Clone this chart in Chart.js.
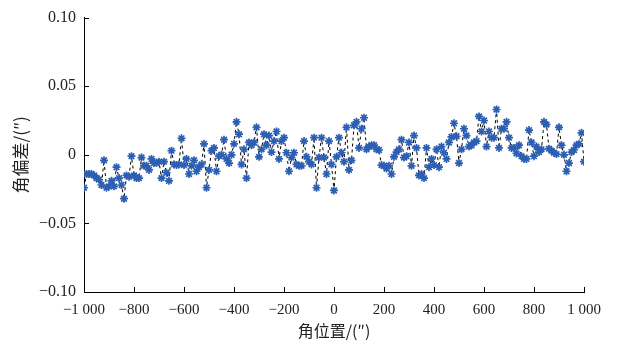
<!DOCTYPE html>
<html>
<head>
<meta charset="utf-8">
<script src="https://cdn.jsdelivr.net/npm/chart.js@4.4.1/dist/chart.umd.min.js"></script>
<style>
  html, body { margin: 0; padding: 0; background: #fff; }
  #wrap { width: 621px; height: 352px; }
</style>
</head>
<body>
<div id="wrap"><canvas id="chart"></canvas></div>
<script>
// angular deviation (″), one value every 10″ from -1000 to 1000
const deviation = [
    -0.024, -0.014, -0.014, -0.014, -0.015, -0.017, -0.018, -0.022, -0.004, -0.024,
    -0.023, -0.019, -0.023, -0.009, -0.017, -0.022, -0.032, -0.015, -0.016, -0.001,
    -0.015, -0.017, -0.017, -0.002, -0.008, -0.008, -0.011, -0.003, -0.006, -0.006,
    -0.005, -0.017, -0.005, -0.013,
    -0.019, 0.003, -0.007, -0.0075, -0.007, 0.012, -0.0075, -0.003, -0.014, -0.008,
    -0.004, -0.012, -0.009, -0.007, 0.008, -0.024, -0.011, 0.003, 0.005, -0.012,
    -0.001, 0, 0.011, -0.003, -0.006, 0, 0.008, 0.024, 0.015, -0.007,
    0.004, -0.017, 0.009, 0.007,
    0.009, 0.020, -0.0015, 0.004, 0.015, 0.007, 0.014, 0.002, 0.010, 0.017,
    -0.003, 0.010, 0.0125, 0.0015, -0.012, -0.002, 0.0015, -0.007, -0.008, -0.008,
    0.010, -0.0015, -0.005, -0.007, 0.0125, -0.024, -0.002, 0.0125, -0.002, -0.014,
    0.010, -0.007, -0.026, -0.0015,
    0.0125, 0.0015, -0.005, 0.020, -0.011, -0.004, 0.0215, 0.024, 0.005, 0.019,
    0.027, 0.004, 0.006, 0.007, 0.007, 0.004, 0.0035, -0.0075, -0.008, -0.010,
    -0.008, -0.014, -0.0015, 0.002, 0.004, 0.011, -0.002, -0.001, 0.009, -0.008,
    0.014, 0.005, -0.015, -0.014,
    -0.017, 0.005, -0.009, -0.003, -0.0075, 0.004, -0.009, 0.006, 0.0015, -0.003,
    0.009, 0.013, 0.023, 0.0135, -0.006, 0.004, 0.019, 0.014, 0.006, 0.007,
    0.009, 0.010, 0.028, 0.017, 0.025, 0.006, 0.017, 0.0125, 0.0125, 0.033,
    0.005, 0.019,
    0.019, 0.024, 0.0125, 0.005, 0.005, 0.001, 0.007, -0.001, -0.003, -0.003,
    0.018, 0.009, -0.001, 0.006, 0.002, 0.004, 0.024, 0.022, 0.0045, 0.003,
    0.0015, 0.0005, 0.020, 0.007, 0, -0.012, -0.006, 0.002, 0.0035, 0.007,
    0.008, 0.016, -0.005
];
const angles = deviation.map((_, i) => -1000 + 10 * i);

const xTicks = [-1000, -800, -600, -400, -200, 0, 200, 400, 600, 800, 1000];
const yTicks = [-0.10, -0.05, 0, 0.05, 0.10];
const xTitle = '角位置/(″)';
const yTitle = '角偏差/(″)';

const serif = '"Liberation Serif", "DejaVu Serif", serif';
const cjk = '"Noto Sans CJK SC", "Noto Sans", sans-serif';

function fmtX(v) {
    var s = Math.abs(v) >= 1000 ? '1 000' : String(Math.abs(v));
    return v < 0 ? '\u2212' + s : s;
}
function fmtY(v) {
    if (Math.abs(v) < 1e-9) return '0';
    var s = Math.abs(v).toFixed(2);
    return v < 0 ? '\u2212' + s : s;
}

// ticks drawn inward, like the original figure
const innerTicks = {
    id: 'innerTicks',
    afterDraw(chart) {
        const { ctx, chartArea, scales } = chart;
        ctx.save();
        ctx.strokeStyle = '#000';
        ctx.lineWidth = 1;
        ctx.beginPath();
        yTicks.forEach((v) => {
            const py = Math.round(scales.y.getPixelForValue(v)) + 0.5;
            ctx.moveTo(chartArea.left, py);
            ctx.lineTo(chartArea.left + 5, py);
        });
        xTicks.forEach((v) => {
            const px = Math.round(scales.x.getPixelForValue(v)) + 0.5;
            ctx.moveTo(px, chartArea.bottom);
            ctx.lineTo(px, chartArea.bottom - 5);
        });
        ctx.stroke();
        ctx.restore();
    }
};

new Chart(document.getElementById('chart'), {
    type: 'line',
    data: {
        datasets: [{
            data: deviation.map((v, i) => ({ x: angles[i], y: v })),
            borderColor: '#000',
            borderWidth: 1,
            borderDash: [3, 3],
            pointStyle: 'star',
            pointRadius: 4,
            pointBorderWidth: 1.7,
            pointBorderColor: '#2c5fb3',
            pointBackgroundColor: '#2c5fb3',
            tension: 0,
        }]
    },
    options: {
        responsive: true,
        maintainAspectRatio: false,
        animation: false,
        layout: {
            padding: { left: 0, right: 37, top: 15, bottom: 0 }
        },
        plugins: {
            legend: { display: false },
            tooltip: { enabled: false },
        },
        scales: {
            x: {
                type: 'linear',
                min: -1000,
                max: 1000,
                afterBuildTicks: (s) => { s.ticks = xTicks.map((v) => ({ value: v })); },
                afterFit: (s) => { s.height = 60; },
                border: { color: '#000', width: 1 },
                grid: { drawOnChartArea: false, drawTicks: false },
                ticks: {
                    padding: 9,
                    maxRotation: 0,
                    color: '#222',
                    font: { family: serif, size: 15 },
                    callback: (v) => fmtX(v),
                },
                title: {
                    display: true,
                    text: xTitle,
                    color: '#222',
                    font: { family: cjk, size: 16 },
                    padding: { top: 0, bottom: 11 },
                },
            },
            y: {
                min: -0.10,
                max: 0.10,
                afterBuildTicks: (s) => { s.ticks = yTicks.map((v) => ({ value: v })); },
                afterFit: (s) => { s.width = 84; },
                border: { color: '#000', width: 1 },
                grid: { drawOnChartArea: false, drawTicks: false },
                ticks: {
                    padding: 8,
                    color: '#222',
                    font: { family: serif, size: 16 },
                    callback: (v) => fmtY(v),
                },
                title: {
                    display: true,
                    text: yTitle,
                    color: '#222',
                    font: { family: cjk, size: 17 },
                    padding: { top: 10, bottom: 0 },
                },
            },
        },
    },
    plugins: [innerTicks],
});
</script>
</body>
</html>
